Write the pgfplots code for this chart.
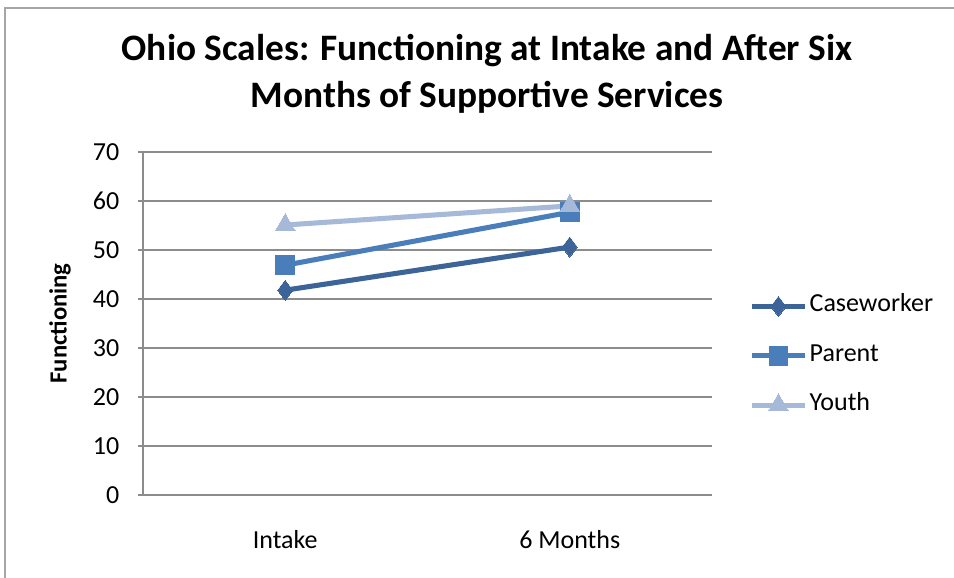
\documentclass[border=0pt]{standalone}
\usepackage{fontspec}
\setmainfont{Carlito}
\usepackage{pgfplots}
\pgfplotsset{compat=1.18}
\definecolor{cw}{RGB}{60,100,152}
\definecolor{pa}{RGB}{74,126,187}
\definecolor{yo}{RGB}{167,185,216}
\definecolor{gl}{RGB}{140,140,140}
\begin{document}
\begin{tikzpicture}[x=0.75pt,y=0.75pt]
\useasboundingbox (0,0) rectangle (954,578);
\draw[black!35, line width=1.5pt] (5,-10) -- (5,570) -- (970,570);
\node[font=\bfseries\fontsize{28}{35}\selectfont, align=center] at (487,504) {Ohio Scales: Functioning at Intake and After Six\\Months of Supportive Services};
\begin{axis}[
  at={(107.25pt,62.25pt)}, anchor=south west,
  scale only axis, width=426.75pt, height=257.25pt,
  xmin=-0.5, xmax=1.5, ymin=0, ymax=70,
  xtick={0,1}, xticklabels={Intake,6 Months},
  ytick={0,10,...,70},
  axis x line*=bottom, axis y line*=left,
  axis line style={-, gl, line width=1.2pt},
  ymajorgrids, grid style={gl, line width=1.2pt},
  xtick style={draw=none},
  ytick style={gl, line width=1.2pt},
  tick align=outside, major tick length=3.75pt,
  ticklabel style={font=\fontsize{19.5}{23}\selectfont},
  /pgf/number format/assume math mode=true,
  xticklabel style={yshift=-19pt},
  yticklabel style={xshift=-10.5pt},
  ylabel={\textbf{Functioning}},
  ylabel style={font=\fontsize{18.5}{22}\selectfont, at={(axis description cs:-0.146,0.5)}, anchor=center},
  legend style={at={(axis description cs:1.058,0.406)}, anchor=west, draw=none, fill=none,
    font=\fontsize{19.5}{23}\selectfont, row sep=18pt,
    nodes={inner sep=1.5pt, text height=12pt, text depth=4pt}},
  legend cell align=left,
  legend image code/.code={\draw[mark repeat=2,mark phase=2,#1] plot coordinates {(0pt,0pt) (20pt,0pt) (40pt,0pt)};},
]
\addplot[cw, line width=3.8pt, mark=diamond*, mark size=7.5pt, mark options={solid, line width=0pt}] coordinates {(0,41.8) (1,50.6)};
\addlegendentry{Caseworker}
\addplot[pa, line width=3.8pt, mark=square*, mark size=7pt, mark options={solid, line width=0pt}] coordinates {(0,46.9) (1,57.7)};
\addlegendentry{Parent}
\addplot[yo, line width=3.8pt, mark=triangle*, mark size=8.5pt, mark options={solid, line width=0pt}] coordinates {(0,55.1) (1,59.0)};
\addlegendentry{Youth}
\end{axis}
\end{tikzpicture}
\end{document}
